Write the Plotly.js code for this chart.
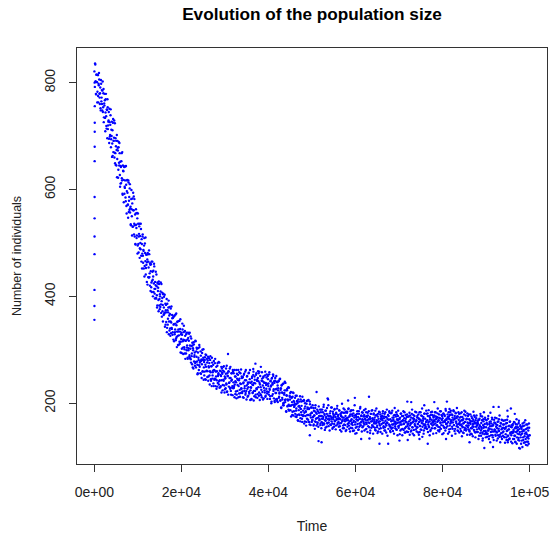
<!DOCTYPE html>
<html>
<head>
<meta charset="utf-8">
<script src="https://cdn.plot.ly/plotly-3.0.1.min.js"></script>
<style>
  html, body { margin: 0; padding: 0; background: #ffffff; }
  #chart { width: 555px; height: 540px; }
</style>
</head>
<body>
<div id="chart"></div>
<script>
// Initial transient (all within the first ~100 time units)
const earlyTimes = [0, 8, 16, 24, 32, 40, 48, 56, 64, 72, 80, 88];
const earlyValues = [356, 382, 412, 479, 512, 546, 586, 653, 680, 708, 725, 756];

// Readings at t = 0, 100, 200, ..., 100000
const timeStep = 100;
const startA = 0;
const populationA = [
821, 792, 834, 802, 778, 815, 801, 783, 814, 763, 795, 806, 772, 780, 752, 805, 765, 786, 748, 802,
754, 788, 735, 757, 767, 709, 769, 737, 714, 749, 769, 713, 727, 745, 687, 726, 702, 739, 679, 712,
727, 686, 663, 732, 691, 697, 660, 724, 668, 646, 691, 674, 623, 691, 673, 637, 689, 645, 668, 605,
611, 642, 653, 621, 670, 590, 635, 618, 643, 592, 603, 643, 578, 609, 555, 617, 594, 572, 617, 558,
586, 602, 557, 568, 533, 599, 550, 574, 530, 594, 561, 516, 582, 533, 498, 555, 534, 509, 556, 480,
555, 498, 512, 531, 472, 513, 488, 526, 465, 498, 480, 516, 463, 485, 495, 437, 499, 466, 441, 478,
478, 464, 422, 479, 465, 435, 479, 443, 462, 410, 460, 426, 408, 465, 431, 437, 408, 461, 414, 396,
414, 446, 396, 419, 379, 426, 410, 393, 428, 383, 376, 400, 409, 385, 423, 362, 397, 384, 404, 365,
399, 369, 343, 386, 374, 352, 395, 341, 374, 358, 379, 329, 364, 380, 340, 353, 331, 381, 339, 359,
333, 361, 347, 316, 364, 333, 349, 318, 368, 324, 334, 353, 309, 338, 327, 354, 311, 339, 295, 329,
332, 302, 349, 316, 292, 333, 318, 301, 335, 283, 317, 329, 299, 308, 285, 332, 299, 317, 287, 332,
284, 325, 276, 307, 293, 313, 267, 299, 314, 278, 290, 270, 317, 277, 297, 304, 278, 254, 295, 285,
262, 309, 268, 279, 297, 255, 282, 273, 300, 259, 285, 244, 277, 259, 286, 272, 244, 290, 261, 276,
260, 287, 250, 267, 275, 235, 281, 258, 242, 269, 285, 246, 258, 272, 232, 262, 246, 275, 232, 259,
268, 243, 231, 275, 251, 256, 235, 276, 243, 230, 260, 251, 220, 265, 255, 234, 268, 242, 259, 220,
226, 247, 255, 237, 270, 222, 251, 292, 260, 231, 239, 265, 227, 247, 216, 256, 244, 232, 262, 228,
256, 232, 211, 250, 241, 222, 262, 216, 246, 234, 253, 211, 243, 258, 225, 237, 219, 263, 227, 247,
222, 249, 237, 210, 255, 228, 243, 216, 262, 223, 233, 251, 212, 239, 230, 257, 218, 245, 206, 238,
229, 208, 247, 235, 220, 253, 205, 238, 250, 223, 274, 211, 256, 226, 244, 217, 260, 241, 214, 259,
206, 251, 230, 215, 242, 258, 221, 233, 248, 209, 239, 224, 252, 212, 238, 227, 254, 218, 236, 245,
237, 216, 258, 225, 213, 242, 233, 203, 247, 238, 217, 251, 226, 241, 204, 242, 219, 207, 251, 227,
204, 233, 224, 241, 210, 218, 245, 205, 225, 192, 233, 220, 207, 236, 200, 196, 216, 224, 206, 238,
224, 184, 214, 227, 195, 205, 188, 229, 195, 212, 219, 195, 175, 211, 202, 184, 220, 177, 204, 193,
195, 210, 175, 198, 190, 214, 178, 202, 167, 194, 179, 203, 192, 166, 207, 183, 195, 171, 212, 177,
176, 204, 162, 190, 200, 176, 184, 165, 204, 178, 192, 169, 206, 189, 165, 203, 177, 159, 192, 182,
182, 169, 174, 191, 160, 177, 185, 166, 196, 171, 158, 180, 188, 164, 173, 129, 182, 168, 176, 159,
176, 188, 165, 171, 159, 183, 174, 197, 162, 178, 168, 154, 186, 172, 180, 163, 209, 170, 157, 175,
169, 181, 160, 175, 192, 166, 173, 152, 184, 170, 177, 161, 189, 167, 174, 158, 180, 171, 195, 163,
178, 165, 172, 186, 157, 170, 181, 163, 175, 199, 168, 153, 182, 173, 160, 188, 166, 176, 171, 150,
172, 184, 161, 168, 190, 158, 175, 166, 179, 154, 187, 170, 163, 176, 148, 181, 167, 173, 196, 160,
165, 178, 170, 156, 185, 168, 174, 151, 180, 162, 171, 193, 159, 176, 166, 183, 155, 169, 175, 162,
178, 160, 171, 189, 164, 152, 176, 168, 182, 157, 170, 212, 163, 174, 149, 180, 166, 186, 159, 172,
169, 156, 181, 165, 173, 150, 177, 162, 190, 168, 158, 175, 147, 171, 184, 161, 166, 179, 153, 170,
161, 176, 168, 185, 154, 172, 164, 180, 149, 167, 174, 158, 188, 163, 170, 124, 176, 160, 182, 157,
170, 155, 166, 182, 160, 173, 148, 169, 177, 162, 191, 157, 165, 175, 151, 179, 163, 168, 186, 154,
158, 171, 164, 149, 180, 166, 160, 176, 152, 168, 185, 161, 172, 145, 167, 178, 156, 164, 174, 203,
160, 175, 153, 166, 182, 158, 169, 147, 173, 163, 188, 155, 165, 178, 150, 170, 161, 184, 157, 166,
168, 154, 176, 161, 145, 172, 165, 183, 158, 169, 151, 177, 163, 190, 156, 167, 174, 149, 180, 160,
171, 157, 165, 180, 152, 168, 176, 160, 187, 155, 166, 173, 148, 178, 162, 169, 184, 158, 164, 175,
160, 177, 166, 153, 183, 170, 158, 174, 165, 190, 156, 168, 179, 150, 172, 163, 185, 159, 169, 176,
172, 158, 181, 166, 154, 176, 168, 189, 161, 171, 203, 157, 174, 165, 183, 151, 170, 178, 162, 186,
168, 179, 156, 173, 164, 187, 159, 170, 176, 152, 182, 166, 172, 191, 160, 175, 148, 169, 180, 163,
166, 152, 174, 160, 183, 157, 168, 145, 171, 163, 186, 154, 165, 177, 149, 170, 158, 181, 155, 162,
158, 170, 147, 163, 179, 153, 166, 142, 172, 157, 161, 184, 150, 165, 174, 145, 168, 156, 177, 151,
160, 146, 168, 154, 139, 171, 157, 180, 149, 163, 152, 175, 143, 159, 166, 148, 116, 161, 170, 144,
155, 168, 142, 160, 149, 176, 153, 138, 165, 157, 182, 146, 162, 151, 170, 140, 158, 193, 147, 164,
150, 163, 139, 156, 172, 145, 159, 134, 166, 152, 148, 177, 141, 157, 162, 137, 169, 153, 145, 160,
147, 160, 136, 153, 168, 142, 156, 131, 163, 149, 175, 139, 151, 158, 134, 166, 145, 190, 140, 155,
144, 158, 133, 150, 165, 139, 153, 128, 161, 146, 170, 136, 148, 155, 131, 163, 142, 152, 115, 157,
141, 155, 130, 147, 162, 136, 150, 126, 158, 143, 168, 133, 145, 152, 128, 160, 138, 149, 124, 154,
140
];

// Readings at t = 50, 150, 250, ..., 99950
const startB = 50;
const populationB = [
800, 836, 802, 779, 815, 801, 763, 815, 775, 798, 818, 779, 760, 791, 748, 798, 772, 760, 785, 745,
780, 726, 761, 779, 734, 744, 779, 719, 750, 696, 754, 720, 729, 695, 751, 699, 721, 750, 694, 700,
661, 711, 725, 670, 691, 729, 669, 649, 696, 681, 645, 702, 657, 678, 622, 679, 650, 687, 627, 652,
644, 612, 668, 617, 592, 645, 634, 576, 642, 605, 617, 585, 644, 569, 597, 618, 571, 547, 613, 579,
562, 610, 565, 535, 582, 563, 514, 583, 531, 561, 587, 536, 512, 553, 497, 563, 528, 514, 546, 495,
536, 482, 517, 536, 490, 500, 536, 476, 507, 452, 512, 476, 487, 452, 509, 457, 481, 510, 453, 459,
427, 469, 481, 436, 454, 486, 436, 420, 459, 447, 417, 465, 429, 446, 400, 448, 424, 456, 405, 427,
421, 397, 441, 402, 383, 424, 416, 372, 423, 395, 404, 380, 426, 369, 391, 407, 372, 353, 405, 379,
367, 403, 370, 347, 384, 370, 333, 386, 347, 370, 392, 353, 336, 367, 326, 377, 351, 341, 365, 328,
360, 319, 348, 363, 329, 338, 366, 321, 346, 305, 352, 326, 334, 309, 354, 315, 334, 357, 315, 320,
294, 328, 338, 304, 319, 345, 305, 293, 326, 317, 293, 332, 304, 319, 283, 322, 303, 330, 290, 308,
302, 282, 321, 288, 273, 308, 303, 265, 310, 287, 295, 275, 316, 267, 287, 302, 272, 256, 303, 281,
271, 305, 276, 256, 289, 279, 247, 294, 260, 281, 301, 267, 252, 281, 245, 291, 268, 260, 283, 249,
280, 242, 269, 284, 252, 260, 288, 245, 269, 232, 276, 252, 261, 237, 279, 244, 261, 283, 245, 250,
227, 260, 270, 238, 253, 277, 241, 229, 261, 253, 232, 268, 243, 257, 224, 261, 244, 269, 233, 250,
246, 228, 265, 235, 221, 256, 251, 216, 259, 238, 247, 229, 268, 223, 242, 256, 229, 215, 259, 239,
229, 262, 235, 217, 250, 239, 209, 255, 223, 244, 262, 232, 218, 246, 212, 256, 236, 228, 250, 219,
248, 211, 239, 253, 223, 232, 259, 219, 243, 207, 250, 227, 236, 214, 256, 221, 239, 262, 224, 230,
207, 240, 250, 219, 234, 259, 223, 213, 244, 237, 216, 253, 228, 242, 210, 247, 230, 256, 220, 238,
235, 217, 268, 225, 211, 246, 241, 207, 250, 229, 238, 220, 259, 214, 234, 248, 222, 208, 251, 232,
221, 254, 227, 208, 241, 231, 200, 246, 214, 235, 254, 223, 209, 238, 202, 247, 226, 219, 240, 208,
239, 202, 228, 242, 212, 220, 246, 205, 228, 191, 234, 210, 219, 196, 237, 201, 219, 240, 202, 207,
185, 215, 224, 194, 207, 230, 197, 186, 214, 207, 187, 221, 196, 210, 178, 212, 197, 219, 185, 202,
198, 180, 214, 186, 174, 204, 200, 168, 207, 187, 195, 178, 213, 172, 189, 203, 178, 165, 204, 186,
177, 206, 182, 166, 194, 185, 158, 199, 171, 189, 205, 178, 165, 190, 160, 198, 180, 173, 192, 165,
168, 196, 174, 158, 186, 177, 152, 191, 165, 182, 221, 172, 161, 185, 156, 194, 176, 170, 188, 162,
183, 153, 176, 188, 163, 171, 193, 160, 180, 150, 186, 167, 174, 156, 191, 162, 177, 196, 164, 170,
149, 176, 185, 159, 171, 192, 162, 154, 180, 174, 156, 188, 166, 179, 151, 182, 169, 190, 160, 175,
170, 156, 187, 162, 150, 179, 176, 147, 183, 166, 173, 158, 190, 153, 169, 182, 159, 148, 184, 168,
182, 156, 173, 189, 163, 152, 176, 147, 185, 167, 161, 179, 153, 159, 187, 165, 149, 177, 210, 143,
154, 174, 144, 180, 161, 168, 150, 185, 156, 171, 190, 158, 164, 177, 147, 170, 182, 157, 165, 187,
149, 175, 169, 151, 183, 161, 174, 146, 177, 164, 185, 155, 170, 144, 171, 180, 154, 166, 187, 157,
143, 179, 162, 169, 154, 186, 149, 165, 178, 155, 144, 180, 164, 166, 152, 183, 158, 146, 175, 172,
172, 143, 181, 163, 157, 175, 149, 155, 183, 161, 145, 173, 164, 139, 178, 152, 169, 185, 159, 148,
146, 181, 152, 167, 186, 154, 160, 173, 143, 166, 178, 153, 161, 183, 150, 170, 140, 176, 157, 164,
170, 142, 173, 160, 181, 151, 166, 140, 167, 176, 150, 162, 183, 153, 145, 171, 165, 147, 179, 157,
146, 162, 175, 152, 141, 177, 161, 163, 149, 180, 155, 143, 172, 169, 140, 176, 159, 166, 151, 183,
147, 173, 155, 161, 179, 141, 170, 146, 157, 183, 167, 150, 176, 137, 162, 171, 143, 159, 181, 153,
160, 154, 186, 167, 152, 181, 146, 164, 157, 176, 140, 170, 150, 183, 161, 153, 178, 166, 143, 173,
168, 153, 183, 162, 175, 144, 172, 159, 181, 149, 167, 173, 147, 155, 185, 164, 152, 178, 169, 142,
164, 180, 144, 155, 178, 165, 149, 186, 154, 169, 162, 179, 143, 172, 175, 146, 158, 183, 152, 166,
164, 139, 178, 152, 169, 185, 159, 148, 172, 143, 181, 163, 157, 175, 149, 155, 183, 161, 145, 173,
159, 181, 148, 168, 138, 174, 155, 162, 144, 179, 150, 165, 184, 152, 158, 171, 141, 164, 176, 151,
179, 149, 141, 167, 161, 143, 175, 153, 166, 138, 169, 156, 177, 147, 162, 136, 163, 172, 146, 158,
165, 162, 133, 169, 152, 159, 144, 176, 139, 155, 168, 145, 134, 170, 154, 156, 142, 173, 148, 136,
145, 163, 137, 143, 171, 149, 133, 161, 152, 127, 166, 140, 157, 173, 147, 136, 160, 131, 169, 151,
173, 141, 147, 160, 130, 153, 165, 140, 148, 170, 137, 157, 127, 163, 144, 151, 133, 168, 139, 154,
167, 137, 152, 126, 153, 162, 136, 148, 169, 139, 131, 157, 151, 133, 165, 143, 156, 128, 159, 146,
125, 161, 145, 147, 133, 164, 139, 127, 156, 153, 124, 160, 143, 150, 135, 167, 130, 146, 159, 136,
124, 152, 143, 118, 157, 131, 148, 164, 138, 127, 151, 122, 160, 142, 136, 154, 128, 134, 162, 140
];

// Isolated readings away from the main band
const strayTimes = [36500, 49500, 52200, 53700, 58300, 61300, 63200, 65500, 70100, 72000, 72800, 74700, 75800, 76600,
                    78100, 80800, 81600, 86200, 89200, 89500, 91600, 92900, 94900, 95000, 96600, 97600, 99500];
const strayValues = [264, 140, 127, 207, 205, 133, 134, 124, 130, 131, 202, 133, 196, 124,
                     202, 133, 189, 127, 130, 183, 118, 193, 186, 127, 180, 116, 121];

// Axis ticks
const xTickValues = [0, 20000, 40000, 60000, 80000, 100000];
const xTickLabels = ["0e+00", "2e+04", "4e+04", "6e+04", "8e+04", "1e+05"];
const yTickValues = [200, 400, 600, 800];
const yTickLabels = ["200", "400", "600", "800"];

const timesA = populationA.map((_, i) => startA + i * timeStep);
const timesB = populationB.map((_, i) => startB + i * timeStep);

const allTimes = earlyTimes.concat(timesA, timesB, strayTimes);
const allValues = earlyValues.concat(populationA, populationB, strayValues);

const tMin = Math.min(...allTimes), tMax = Math.max(...allTimes);
const vMin = Math.min(...allValues), vMax = Math.max(...allValues);
const tPad = (tMax - tMin) * 0.04, vPad = (vMax - vMin) * 0.04;

const pointTrace = {
  x: allTimes,
  y: allValues,
  type: 'scatter',
  mode: 'markers',
  marker: { color: '#0000ff', size: 2.4, line: { width: 0 } },
  hoverinfo: 'x+y'
};

const fontFamily = '"Liberation Sans", Arial, Helvetica, sans-serif';

const layout = {
  width: 555,
  height: 540,
  margin: { l: 77, r: 8, t: 48, b: 76, pad: 0 },
  paper_bgcolor: '#ffffff',
  plot_bgcolor: '#ffffff',
  showlegend: false,
  font: { family: fontFamily, size: 13, color: '#000000' },
  title: {
    text: '<b>Evolution of the population size</b>',
    font: { family: fontFamily, size: 17.2, color: '#000000' },
    x: 0.5, xref: 'paper', xanchor: 'center',
    y: 1 - 14 / 540, yref: 'container', yanchor: 'middle'
  },
  xaxis: {
    range: [tMin - tPad, tMax + tPad],
    tickmode: 'array',
    tickvals: xTickValues,
    ticktext: xTickLabels,
    ticks: 'outside',
    ticklen: 7,
    tickwidth: 1,
    tickcolor: '#333333',
    ticklabelstandoff: 8,
    showline: true,
    mirror: true,
    linecolor: '#333333',
    linewidth: 1,
    showgrid: false,
    zeroline: false,
    tickfont: { family: fontFamily, size: 14, color: '#222222' },
    title: { text: 'Time', font: { family: fontFamily, size: 14, color: '#222222' }, standoff: 22 }
  },
  yaxis: {
    range: [vMin - vPad, vMax + vPad],
    tickmode: 'array',
    tickvals: yTickValues,
    ticktext: yTickLabels,
    tickangle: -90,
    ticks: 'outside',
    ticklen: 7,
    tickwidth: 1,
    tickcolor: '#333333',
    ticklabelstandoff: 8,
    showline: true,
    mirror: true,
    linecolor: '#333333',
    linewidth: 1,
    showgrid: false,
    zeroline: false,
    tickfont: { family: fontFamily, size: 14, color: '#222222' },
    title: { text: 'Number of individuals', font: { family: fontFamily, size: 12.5, color: '#222222' }, standoff: 18 }
  }
};

Plotly.newPlot('chart', [pointTrace], layout, { displayModeBar: false, staticPlot: true });
</script>
</body>
</html>
